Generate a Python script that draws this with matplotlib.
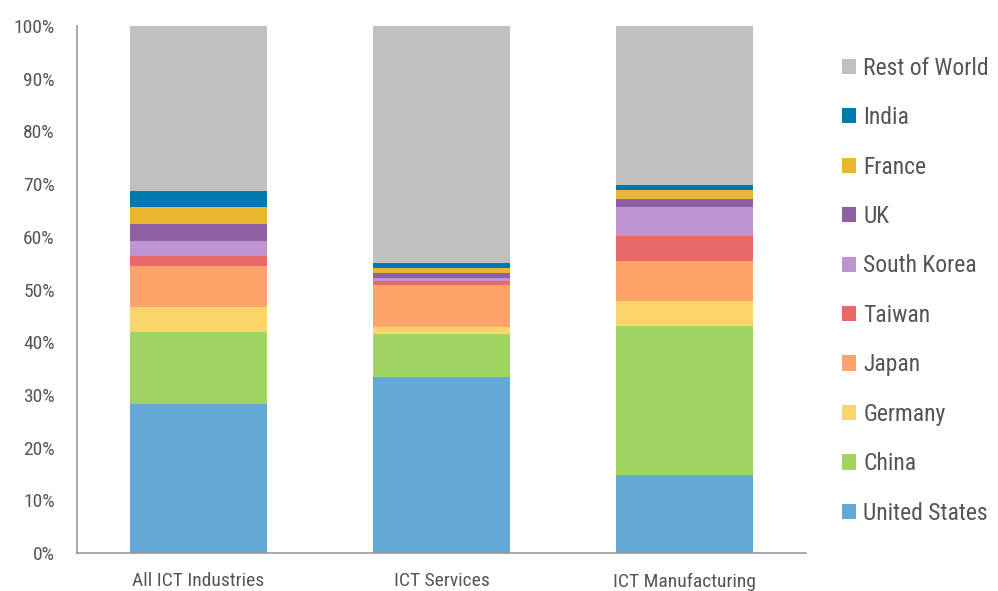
import numpy as np
import matplotlib.pyplot as plt

plt.rcParams['font.family'] = ['Roboto Condensed', 'Archivo Narrow', 'DejaVu Sans']

# categories and shares (%)
categories = ["All ICT Industries", "ICT Services", "ICT Manufacturing"]
countries = ["United States", "China", "Germany", "Japan", "Taiwan",
             "South Korea", "UK", "France", "India", "Rest of World"]

united_states = [28.3, 33.4, 14.8]
china = [13.6, 8.2, 28.3]
germany = [4.8, 1.3, 4.7]
japan = [7.8, 8.0, 7.6]
taiwan = [1.9, 0.7, 4.8]
south_korea = [2.8, 0.5, 5.5]
uk = [3.2, 1.1, 1.5]
france = [3.3, 0.8, 1.7]
india = [2.9, 1.0, 0.9]
rest_of_world = [31.4, 45.0, 30.2]

colors = ["#63a9d6", "#a1d563", "#fbd46a", "#fea36a", "#e76a68",
          "#bf94d0", "#8f5fa3", "#e8b631", "#0078ad", "#c0c0c0"]

series = [united_states, china, germany, japan, taiwan,
          south_korea, uk, france, india, rest_of_world]

text_color = "#555555"

fig = plt.figure(figsize=(9.98, 5.91), dpi=100)
ax = fig.add_axes([0.0772, 0.0643, 0.7304, 0.8917])

x = np.arange(len(categories))
bottom = np.zeros(len(categories))
handles = []
for name, vals, col in zip(countries, series, colors):
    vals = np.array(vals)
    b = ax.bar(x, vals, width=0.567, bottom=bottom, color=col, label=name,
               linewidth=0)
    handles.append(b)
    bottom += vals

ax.set_xlim(-0.5, 2.5)
ax.set_ylim(0, 100)
ax.set_yticks(np.arange(0, 101, 10))
ax.set_yticklabels([f"{v}%" for v in range(0, 101, 10)])
ax.set_xticks(x)
ax.set_xticklabels(categories)

for s in ["top", "right"]:
    ax.spines[s].set_visible(False)
for s in ["left", "bottom"]:
    ax.spines[s].set_color("#999999")
    ax.spines[s].set_linewidth(1.2)

ax.tick_params(axis="both", length=0, colors=text_color)
ax.tick_params(axis="y", labelsize=14, pad=16)
ax.tick_params(axis="x", labelsize=14, pad=14)

leg = fig.legend(handles[::-1], countries[::-1], loc="upper left",
                 bbox_to_anchor=(0.822, 0.94), frameon=False, fontsize=17,
                 handlelength=0.62, handleheight=0.62, handletextpad=0.3,
                 labelspacing=1.12)
for t in leg.get_texts():
    t.set_color(text_color)

fig.savefig("out.png", dpi=100)
